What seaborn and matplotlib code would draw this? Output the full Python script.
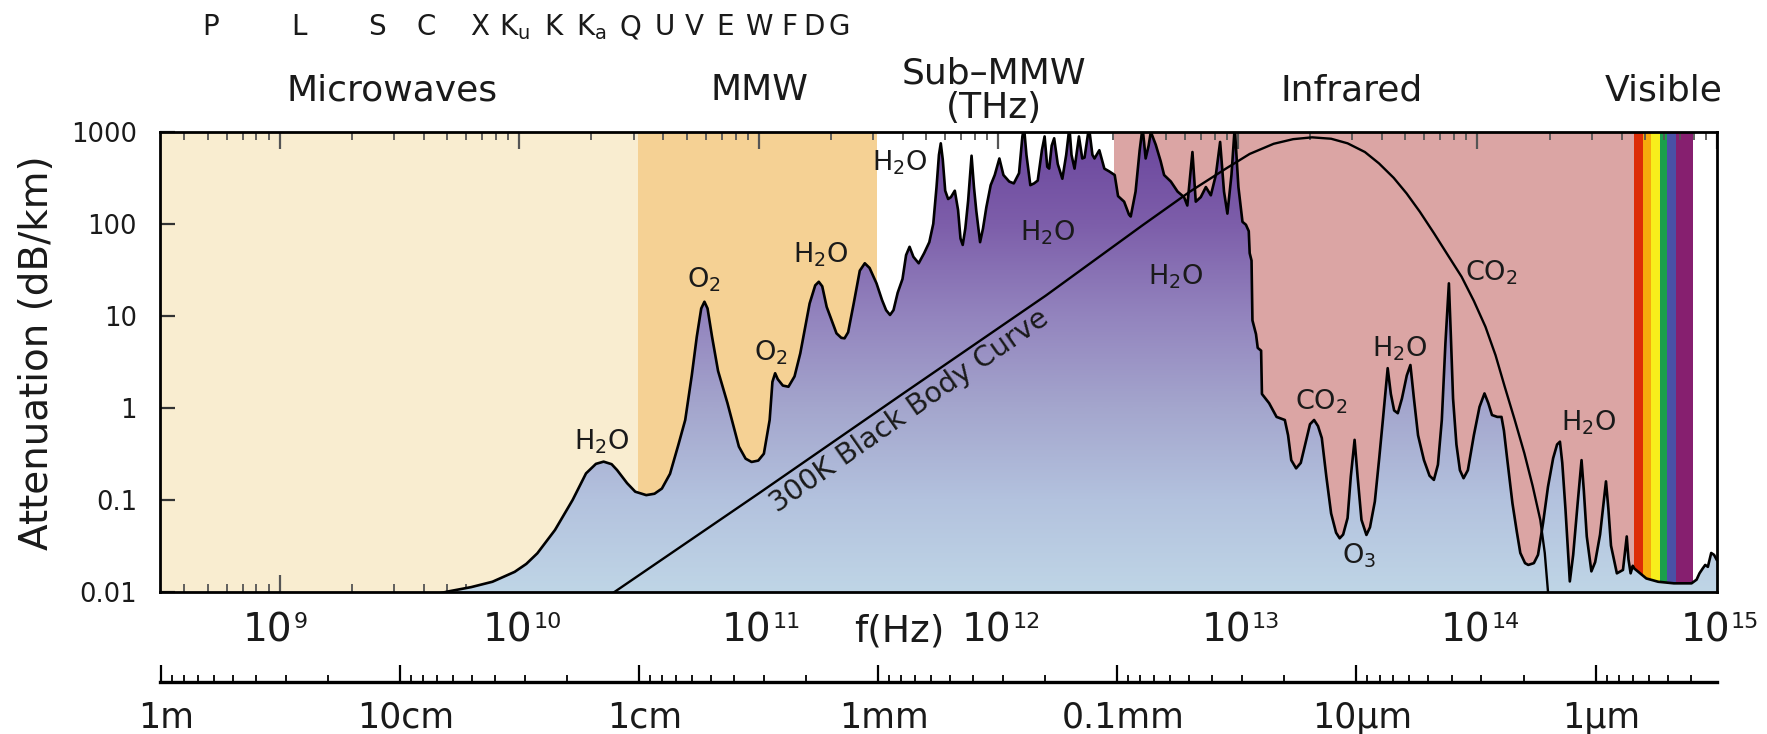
import numpy as np
import matplotlib
matplotlib.use("Agg")
import matplotlib.pyplot as plt
import matplotlib.transforms as mtransforms
import seaborn as sns
from matplotlib.colors import LinearSegmentedColormap
from matplotlib.patches import Polygon
from matplotlib.ticker import FixedLocator, FixedFormatter, LogLocator, NullFormatter, NullLocator

# Sea-level atmospheric attenuation: frequency (Hz) and attenuation (dB/km)
freq_hz = [
    2.51e9, 3.98e9, 5.01e9, 6.31e9, 7.73e9, 9.57e9, 1.07e10, 1.19e10, 1.41e10, 1.67e10,
    1.90e10, 2.09e10, 2.25e10, 2.43e10, 2.56e10, 2.82e10, 3.05e10, 3.39e10, 3.67e10, 3.94e10,
    4.26e10, 4.62e10, 4.93e10, 5.25e10, 5.51e10, 5.75e10, 5.93e10, 6.11e10, 6.38e10, 6.76e10,
    7.40e10, 8.26e10, 8.81e10, 9.33e10, 9.95e10, 1.05e11, 1.11e11, 1.14e11, 1.17e11, 1.20e11,
    1.26e11, 1.33e11, 1.41e11, 1.49e11, 1.63e11, 1.72e11, 1.78e11, 1.84e11, 1.92e11, 2.11e11,
    2.21e11, 2.28e11, 2.36e11, 2.49e11, 2.64e11, 2.77e11, 2.90e11, 3.10e11, 3.27e11, 3.40e11,
    3.53e11, 3.65e11, 3.80e11, 3.98e11, 4.12e11, 4.26e11, 4.42e11, 4.65e11, 4.90e11, 5.15e11,
    5.35e11, 5.52e11, 5.65e11, 5.75e11, 5.86e11, 6.00e11, 6.17e11, 6.34e11, 6.58e11, 6.79e11,
    6.95e11, 7.10e11, 7.28e11, 7.48e11, 7.73e11, 7.91e11, 8.09e11, 8.39e11, 8.63e11, 8.91e11,
    9.29e11, 9.66e11, 1.01e12, 1.05e12, 1.11e12, 1.16e12, 1.22e12, 1.26e12, 1.28e12, 1.31e12,
    1.36e12, 1.41e12, 1.46e12, 1.52e12, 1.56e12, 1.60e12, 1.63e12, 1.67e12, 1.71e12, 1.77e12,
    1.85e12, 1.92e12, 1.98e12, 2.02e12, 2.08e12, 2.17e12, 2.24e12, 2.29e12, 2.39e12, 2.47e12,
    2.52e12, 2.64e12, 2.77e12, 2.90e12, 3.06e12, 3.16e12, 3.35e12, 3.51e12, 3.57e12, 3.74e12,
    3.89e12, 4.00e12, 4.12e12, 4.24e12, 4.33e12, 4.54e12, 4.76e12, 4.92e12, 5.25e12, 5.60e12,
    5.96e12, 6.15e12, 6.31e12, 6.46e12, 6.67e12, 7.00e12, 7.35e12, 7.71e12, 8.09e12, 8.43e12,
    8.75e12, 9.04e12, 9.40e12, 9.70e12, 1.005e13, 1.045e13, 1.08e13, 1.11e13, 1.12e13, 1.14e13,
    1.15e13, 1.19e13, 1.21e13, 1.25e13, 1.26e13, 1.35e13, 1.45e13, 1.57e13, 1.62e13, 1.67e13,
    1.75e13, 1.83e13, 1.91e13, 2.00e13, 2.08e13, 2.16e13, 2.24e13, 2.34e13, 2.45e13, 2.57e13,
    2.66e13, 2.75e13, 2.87e13, 2.96e13, 3.07e13, 3.16e13, 3.28e13, 3.44e13, 3.56e13, 3.73e13,
    3.89e13, 4.03e13, 4.22e13, 4.35e13, 4.49e13, 4.65e13, 4.84e13, 5.07e13, 5.25e13, 5.43e13,
    5.65e13, 5.98e13, 6.31e13, 6.58e13, 6.84e13, 7.10e13, 7.35e13, 7.60e13, 7.74e13, 7.91e13,
    8.17e13, 8.45e13, 8.75e13, 9.12e13, 9.66e13, 1.02e14, 1.07e14, 1.11e14, 1.15e14, 1.21e14,
    1.26e14, 1.29e14, 1.33e14, 1.40e14, 1.46e14, 1.51e14, 1.58e14, 1.63e14, 1.72e14, 1.79e14,
    1.88e14, 1.97e14, 2.07e14, 2.15e14, 2.21e14, 2.26e14, 2.33e14, 2.43e14, 2.51e14, 2.62e14,
    2.72e14, 2.78e14, 2.86e14, 2.99e14, 3.10e14, 3.25e14, 3.44e14, 3.52e14, 3.61e14, 3.82e14,
    4.05e14, 4.14e14, 4.20e14, 4.27e14, 4.36e14, 4.45e14, 4.52e14, 5.07e14, 5.68e14, 6.61e14,
    7.83e14, 8.22e14, 8.45e14, 8.71e14, 8.93e14, 9.16e14, 9.46e14, 9.72e14, 1.00e15,
]
atten_db_km = [
    0.0050, 0.0087, 0.0100, 0.0112, 0.0128, 0.0164, 0.0200, 0.0261, 0.0468, 0.0991,
    0.193, 0.245, 0.259, 0.243, 0.210, 0.151, 0.122, 0.112, 0.116, 0.132,
    0.191, 0.398, 0.735, 2.24, 5.92, 12.0, 14.2, 12.0, 5.92, 2.51,
    1.12, 0.377, 0.279, 0.257, 0.266, 0.316, 0.735, 1.91, 2.37, 2.04,
    1.74, 1.69, 2.19, 3.90, 13.6, 21.4, 23.4, 20.9, 12.5, 6.44,
    5.75, 5.68, 6.61, 13.6, 30.9, 37.2, 33.1, 22.5, 14.8, 11.5,
    10.2, 11.5, 17.8, 25.1, 45.7, 56.2, 43.7, 37.2, 47.9, 63.1,
    100, 251, 562, 750, 501, 229, 186, 195, 229, 141,
    69.2, 58.9, 89.1, 178, 550, 251, 138, 63.1, 89.1, 151,
    263, 339, 513, 339, 288, 275, 355, 891, 1122, 562,
    263, 275, 295, 631, 891, 417, 398, 708, 851, 447,
    309, 562, 1122, 562, 398, 891, 513, 525, 1122, 562,
    513, 631, 398, 372, 339, 200, 174, 126, 120, 224,
    631, 1122, 513, 708, 1000, 724, 479, 339, 288, 224,
    195, 158, 316, 603, 174, 195, 251, 204, 339, 776,
    224, 129, 339, 1122, 251, 105, 97.7, 83.2, 47.9, 39.8,
    8.91, 6.31, 4.47, 4.17, 1.41, 1.12, 0.794, 0.735, 0.501, 0.269,
    0.219, 0.251, 0.398, 0.661, 0.735, 0.631, 0.468, 0.178, 0.0708, 0.0437,
    0.0380, 0.0417, 0.0631, 0.178, 0.447, 0.178, 0.0603, 0.0413, 0.0501, 0.0955,
    0.282, 0.741, 2.69, 1.41, 0.933, 0.871, 1.26, 2.24, 2.91, 1.26,
    0.501, 0.269, 0.182, 0.164, 0.240, 0.735, 5.01, 22.5, 6.31, 1.26,
    0.398, 0.209, 0.171, 0.209, 0.501, 1.02, 1.43, 1.12, 0.832, 0.794,
    0.794, 0.562, 0.282, 0.0912, 0.0447, 0.0263, 0.0204, 0.0195, 0.0204, 0.0251,
    0.0562, 0.138, 0.282, 0.398, 0.427, 0.251, 0.0794, 0.0129, 0.0251, 0.0912,
    0.269, 0.126, 0.0398, 0.0166, 0.0209, 0.0417, 0.158, 0.0794, 0.0316, 0.0158,
    0.0172, 0.0282, 0.0398, 0.0224, 0.0158, 0.0191, 0.0178, 0.0139, 0.0128, 0.0123,
    0.0123, 0.0135, 0.0158, 0.0178, 0.0195, 0.0186, 0.0263, 0.0251, 0.0219,
]

# 300 K black body curve drawn on the same vertical scale
bb_freq_hz = [
    2.00e10, 2.51e10, 1.00e11, 3.98e11, 1.58e12, 3.98e12, 6.31e12, 8.91e12, 1.12e13, 1.41e13,
    1.70e13, 2.04e13, 2.45e13, 2.87e13, 3.39e13, 3.88e13, 4.47e13, 5.06e13, 5.75e13, 6.59e13,
    7.52e13, 8.59e13, 9.66e13, 1.08e14, 1.19e14, 1.30e14, 1.43e14, 1.57e14, 1.70e14, 1.83e14,
    1.91e14, 1.97e14, 2.04e14,
]
bb_level = [
    0.00661, 0.0100, 0.117, 1.41, 16.6, 95.5, 224, 398, 575, 741,
    832, 871, 841, 750, 603, 454, 316, 214, 135, 78.7,
    45.7, 26.5, 14.5, 7.59, 3.72, 1.69, 0.741, 0.319, 0.141, 0.0601,
    0.0263, 0.0100, 0.00355,
]

# Spectral regions shading the space above the curve
region_edges_hz = [3.162e8, 3.13e10, 3.10e11, 3.05e12, 4.50e14]
region_colors = ["#F9EDD0", "#F5D194", "#FFFFFF", "#DBA5A4"]
visible_edges_hz = [4.50e14, 4.92e14, 5.28e14, 5.77e14, 6.19e14, 6.77e14, 7.93e14]
visible_colors = ["#DD2C06", "#F6AA0C", "#F7EE1C", "#1B9F4B", "#4A51A6", "#861F6F"]
uv_edges_hz = [7.93e14, 1.0e15]

region_names = ["Microwaves", "MMW", "Sub–MMW", "Infrared", "Visible"]
region_label_hz = [2.94e9, 1.01e11, 9.59e11, 2.99e13, 5.98e14]
thz_note = "(THz)"

band_letters = ["P", "L", "S", "C", "X", r"K$_\mathregular{u}$", "K", r"K$_\mathregular{a}$",
                "Q", "U", "V", "E", "W", "F", "D", "G"]
band_letter_hz = [5.16e8, 1.20e9, 2.55e9, 4.09e9, 6.81e9, 9.53e9, 1.39e10, 2.00e10,
                  2.90e10, 4.05e10, 5.40e10, 7.20e10, 1.00e11, 1.34e11, 1.70e11, 2.16e11]

molecule_labels = [r"H$_\mathregular{2}$O", r"O$_\mathregular{2}$", r"O$_\mathregular{2}$",
                   r"H$_\mathregular{2}$O", r"H$_\mathregular{2}$O", r"H$_\mathregular{2}$O",
                   r"H$_\mathregular{2}$O", r"CO$_\mathregular{2}$", r"H$_\mathregular{2}$O",
                   r"CO$_\mathregular{2}$", r"O$_\mathregular{3}$", r"H$_\mathregular{2}$O"]
molecule_hz = [2.20e10, 5.92e10, 1.125e11, 1.82e11, 3.87e11, 1.60e12, 5.51e12, 1.14e14,
               4.73e13, 2.24e13, 3.21e13, 2.91e14]
molecule_db = [0.347, 20.5, 3.30, 38.4, 375, 66.5, 21.6, 24.4, 3.56, 0.944, 0.020, 0.571]

freq_ticks_hz = [1e9, 1e10, 1e11, 1e12, 1e13, 1e14, 1e15]
freq_exponents = ["9", "10", "11", "12", "13", "14", "15"]
atten_ticks = [0.01, 0.1, 1, 10, 100, 1000]
atten_tick_labels = ["0.01", "0.1", "1", "10", "100", "1000"]
wavelength_ticks_m = [1, 0.1, 0.01, 1e-3, 1e-4, 1e-5, 1e-6]
wavelength_labels = ["1m", "10cm", "1cm", "1mm", "0.1mm", "10µm", "1µm"]

TEXT = "#1a1a1a"

sns.set_theme(style="white")
plt.rcParams["font.family"] = ["DejaVu Sans"]
plt.rcParams["mathtext.fontset"] = "dejavusans"

fig = plt.figure(figsize=(17.67, 7.34), dpi=100)
ax = fig.add_axes([0.0905, 0.1940, 0.8812, 0.6264])
ax.set_xscale("log")
ax.set_yscale("log")
ax.set_xlim(3.162e8, 1e15)
ax.set_ylim(0.01, 1000)
ax.set_autoscale_on(False)

# background regions
for lo, hi, c in zip(region_edges_hz[:-1], region_edges_hz[1:], region_colors):
    ax.axvspan(lo, hi, color=c, lw=0, zorder=0)
for lo, hi, c in zip(visible_edges_hz[:-1], visible_edges_hz[1:], visible_colors):
    ax.axvspan(lo, hi, color=c, lw=0, zorder=0)
ax.axvspan(uv_edges_hz[0], uv_edges_hz[1], color="white", lw=0, zorder=0)

# vertical blue-to-purple gradient under the attenuation curve
cmap = LinearSegmentedColormap.from_list(
    "atm", ["#BFD5E6", "#B3C2DE", "#A4A6CD", "#9384BE", "#7D5EAA", "#6B469D"])
grad = np.linspace(0, 1, 512).reshape(-1, 1)
im = ax.imshow(grad, cmap=cmap, origin="lower", aspect="auto", extent=(0, 1, 0, 1),
               transform=ax.transAxes, zorder=1, interpolation="bilinear")
outline = [(freq_hz[0], 1e-4)] + list(zip(freq_hz, atten_db_km)) + [(freq_hz[-1], 1e-4)]
clip = Polygon(outline, closed=True, transform=ax.transData, facecolor="none", edgecolor="none")
ax.add_patch(clip)
im.set_clip_path(clip)

sns.lineplot(x=freq_hz, y=atten_db_km, ax=ax, color="black", lw=1.9,
             estimator=None, sort=False, zorder=3)
sns.lineplot(x=bb_freq_hz, y=bb_level, ax=ax, color="black", lw=1.7,
             estimator=None, sort=False, zorder=4)
ax.set_xlim(3.162e8, 1e15)
ax.set_ylim(0.01, 1000)

# frequency ticks (inside, top and bottom)
ax.xaxis.set_major_locator(FixedLocator(freq_ticks_hz))
ax.xaxis.set_major_formatter(NullFormatter())
ax.xaxis.set_minor_locator(LogLocator(base=10, subs=[2, 3, 4, 5, 6, 7, 8, 9], numticks=100))
ax.xaxis.set_minor_formatter(NullFormatter())
ax.tick_params(axis="x", which="both", direction="in", top=True, bottom=True, color="#555555")
ax.tick_params(axis="x", which="major", length=12, width=1.6)
ax.tick_params(axis="x", which="minor", length=5.5, width=1.3)

ax.yaxis.set_major_locator(FixedLocator(atten_ticks))
ax.yaxis.set_major_formatter(FixedFormatter(atten_tick_labels))
ax.yaxis.set_minor_locator(NullLocator())
ax.tick_params(axis="y", which="major", direction="in", left=True, right=False, length=11,
               width=1.6, color="#333333", labelsize=18.5, pad=16.5, labelcolor=TEXT)
for s in ax.spines.values():
    s.set_color("black")
    s.set_linewidth(2.0)
    s.set_zorder(6)

xt = ax.get_xaxis_transform()
base_tr = mtransforms.offset_copy(xt, fig=fig, x=13, y=0, units="dots")
exp_tr = mtransforms.offset_copy(xt, fig=fig, x=14, y=13.7, units="dots")
for f, e in zip(freq_ticks_hz, freq_exponents):
    ax.text(f, -0.109, "10", transform=base_tr, ha="right", va="baseline", fontsize=28, color=TEXT)
    ax.text(f, -0.109, e, transform=exp_tr, ha="left", va="baseline", fontsize=16, color=TEXT)
ax.text(3.85e11, -0.109, "f(Hz)", transform=xt, ha="center", va="baseline", fontsize=27, color=TEXT)

fig.text(0.0212, 0.5198, "Attenuation (dB/km)", rotation=90, ha="center", va="center",
         fontsize=28, color=TEXT)

# region titles and radar band letters above the plot
for name, f in zip(region_names, region_label_hz):
    y = 1.1055 if name == "Sub–MMW" else 1.0692
    ax.text(f, y, name, transform=xt, ha="center", va="baseline", fontsize=26, color=TEXT)
ax.text(region_label_hz[2], 1.0291, thz_note, transform=xt, ha="center", va="baseline",
        fontsize=26, color=TEXT)
for lab, f in zip(band_letters, band_letter_hz):
    ax.text(f, 1.2105, lab, transform=xt, ha="center", va="baseline", fontsize=20, color=TEXT)

# absorbing molecules
for lab, f, a in zip(molecule_labels, molecule_hz, molecule_db):
    ax.text(f, a, lab, ha="center", va="baseline", fontsize=19.5, color=TEXT, zorder=5)
ax.text(4.24e11, 0.92, "300K Black Body Curve", rotation=35, rotation_mode="anchor",
        ha="center", va="center", fontsize=20.5, color=TEXT, zorder=5)

# wavelength scale below
ax2 = fig.add_axes([0.0905, 0.07084, 0.8812, 0.0004])
ax2.set_xscale("log")
ax2.set_xlim(1.0068, 3.107e-7)
ax2.set_ylim(0, 1)
ax2.yaxis.set_visible(False)
for s in ("top", "left", "right"):
    ax2.spines[s].set_visible(False)
ax2.spines["bottom"].set_linewidth(2.4)
ax2.spines["bottom"].set_color("black")
ax2.patch.set_alpha(0)
ax2.xaxis.set_major_locator(FixedLocator(wavelength_ticks_m))
ax2.xaxis.set_major_formatter(NullFormatter())
ax2.xaxis.set_minor_locator(LogLocator(base=10, subs=[2, 3, 4, 5, 6, 7, 8, 9], numticks=100))
ax2.xaxis.set_minor_formatter(NullFormatter())
ax2.tick_params(axis="x", which="both", direction="in", top=False, bottom=True, color="black")
ax2.tick_params(axis="x", which="major", length=12, width=1.6)
ax2.tick_params(axis="x", which="minor", length=5, width=1.3)
wl_tr = mtransforms.offset_copy(
    mtransforms.blended_transform_factory(ax2.transData, fig.transFigure),
    fig=fig, x=6, y=0, units="dots")
for w, lab in zip(wavelength_ticks_m, wavelength_labels):
    ax2.text(w, 0.0082, lab, transform=wl_tr, ha="center", va="baseline", fontsize=25, color=TEXT)

fig.savefig("out.png", dpi=100)
